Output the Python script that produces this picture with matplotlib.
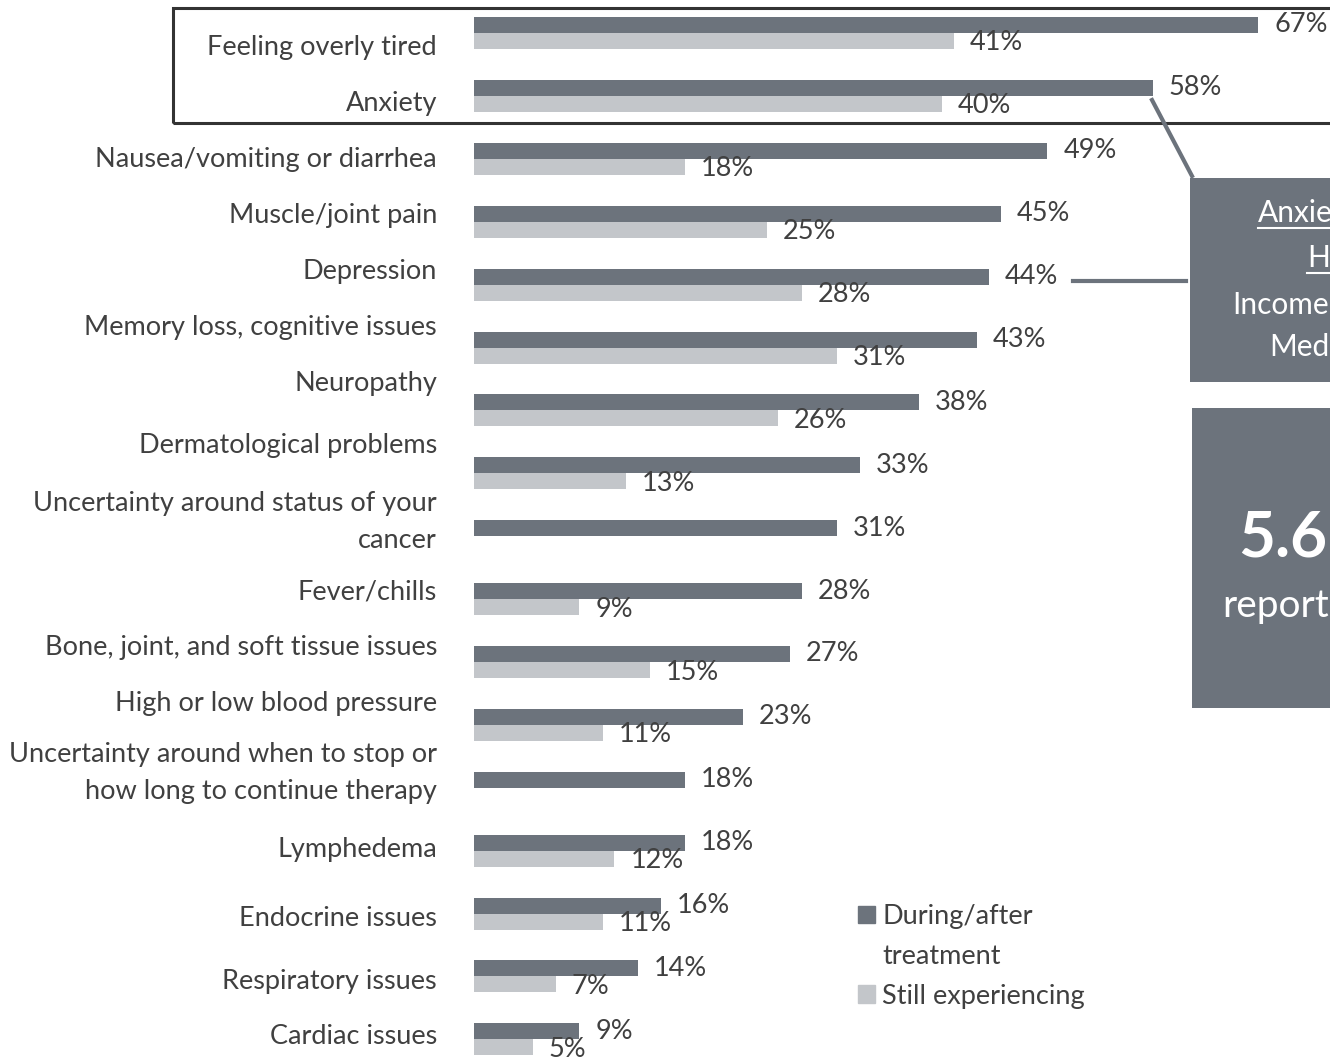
import matplotlib.pyplot as plt
import numpy as np
from matplotlib.patches import Rectangle, Patch
from matplotlib.lines import Line2D

# data
cats = ["Feeling overly tired", "Anxiety", "Nausea/vomiting or diarrhea",
        "Muscle/joint pain", "Depression", "Memory loss, cognitive issues",
        "Neuropathy", "Dermatological problems",
        "Uncertainty around status of your\ncancer", "Fever/chills",
        "Bone, joint, and soft tissue issues", "High or low blood pressure",
        "Uncertainty around when to stop or\nhow long to continue therapy",
        "Lymphedema", "Endocrine issues", "Respiratory issues", "Cardiac issues"]
during = [67, 58, 49, 45, 44, 43, 38, 33, 31, 28, 27, 23, 18, 18, 16, 14, 9]
still = [41, 40, 18, 25, 28, 31, 26, 13, np.nan, 9, 15, 11, np.nan, 12, 11, 7, 5]
legend_labels = ["During/after", "treatment", "Still experiencing"]

# category labels sit in their own text column (pixel centres from the slide)
label_py = [48, 104, 160, 215, 271, 327, 383, 446, 522, 592, 647, 703, 773,
            849, 919, 981, 1037]

DARK = "#6c737c"
LIGHT = "#c3c6ca"
TXT = "#404040"
FONT = "Lato"
FS = 19.5

W, H = 1330, 1058
fig = plt.figure(figsize=(W / 100, H / 100), dpi=100)

def fx(px):
    return px / W

def fy(py):
    return 1 - py / H

# axes: 0..67 % maps to x 474..1258 px, rows 62.9 px apart
ax = fig.add_axes([fx(474), 0, 784 / W, 1])
ax.set_xlim(0, 67)
row = 62.9
ax.set_ylim((H - 33) / row, -33 / row)
ax.axis("off")

y = np.arange(len(cats))
bh = 16 / row
ax.barh(y - bh / 2, during, height=bh, color=DARK)
ax.barh(y + bh / 2, still, height=bh, color=LIGHT)

pxu = 67 / 784  # data units per pixel
for i, (d, s) in enumerate(zip(during, still)):
    ax.text(d + 16 * pxu, i - bh / 2, f"{d}%", ha="left", va="center",
            fontsize=FS, color=TXT, family=FONT, clip_on=False)
    if not np.isnan(s):
        ax.text(s + 16 * pxu, i + bh / 2 + 2 / row, f"{s:.0f}%", ha="left",
                va="center", fontsize=FS, color=TXT, family=FONT,
                clip_on=False)
    fig.text(fx(437), fy(label_py[i]), cats[i], ha="right", va="center",
             fontsize=FS, color=TXT, family=FONT, linespacing=1.58)

# legend: the wrapped label is split so the square stays on the first line
handles = [Patch(color=DARK), Patch(color="none"), Patch(color=LIGHT)]
ax.legend(handles, legend_labels, loc="upper left",
          bbox_to_anchor=(fx(858), fy(904)), bbox_transform=fig.transFigure,
          frameon=False, prop={"family": FONT, "size": FS}, labelcolor=TXT,
          handlelength=0.62, handleheight=0.62, handletextpad=0.28,
          labelspacing=0.55, borderpad=0, borderaxespad=0)

# outline around the top two rows
fig.add_artist(Rectangle((fx(173), fy(123)), 2, (123 - 8) / H,
                         transform=fig.transFigure, fill=False,
                         edgecolor="#333333", lw=2.2))

# callout boxes on the right (cut off by the slide edge)
fig.add_artist(Rectangle((fx(1190), fy(382)), 1, (382 - 178) / H,
                         transform=fig.transFigure, color=DARK, lw=0))
fig.add_artist(Rectangle((fx(1192), fy(708)), 1, (708 - 408) / H,
                         transform=fig.transFigure, color=DARK, lw=0))
fig.add_artist(Line2D([fx(1152), fx(1192)], [fy(100), fy(176)],
                      transform=fig.transFigure, color=DARK, lw=3))
fig.add_artist(Line2D([fx(1073), fx(1186)], [fy(281), fy(281)],
                      transform=fig.transFigure, color=DARK, lw=3))

box_lines = [("Anxiety", 1258, 213, True), ("Higher", 1307, 258, True),
             ("Income", 1232, 305, False), ("Medicaid", 1269, 347, False)]
for t, x0, y0, ul in box_lines:
    fig.text(fx(x0), fy(y0), t, ha="left", va="center", color="white",
             fontsize=21.5, family=FONT)
    if ul:
        fig.add_artist(Line2D([fx(x0), 1], [fy(y0 + 15), fy(y0 + 15)],
                              transform=fig.transFigure, color="white", lw=1.5))

fig.text(fx(1238), fy(538), "5.6", ha="left", va="center", color="white",
         fontsize=46, fontweight="bold", family=FONT)
fig.text(fx(1222), fy(606), "reported", ha="left", va="center", color="white",
         fontsize=28, family=FONT)

fig.savefig("out.png", dpi=100)
